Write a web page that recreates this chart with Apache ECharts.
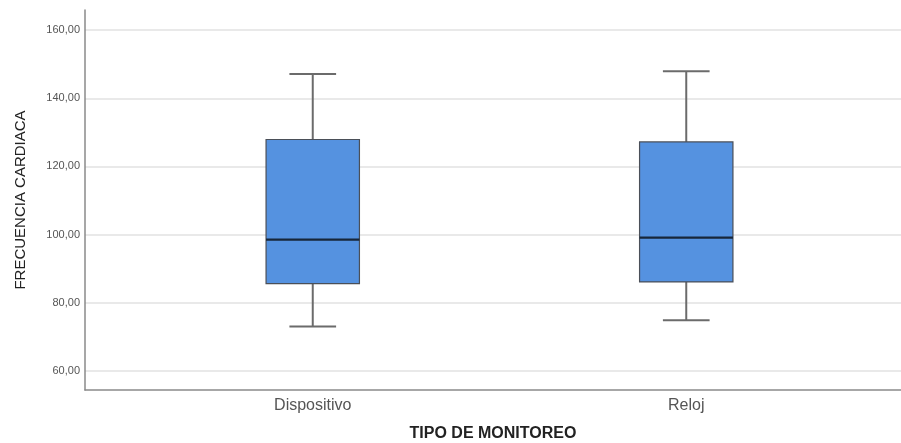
<!DOCTYPE html>
<html><head><meta charset="utf-8">
<script src="https://cdn.jsdelivr.net/npm/echarts@6/dist/echarts.min.js"></script>
<style>html,body{margin:0;padding:0;background:#fff}#c{width:901px;height:443px}</style>
</head><body><div id="c"></div>
<script>
var categories = ['Dispositivo', 'Reloj'];
// [min, Q1, median, Q3, max]
var dispositivo = [73.0, 85.6, 98.5, 127.9, 147.1];
var reloj = [74.9, 86.1, 99.1, 127.2, 147.9];
var yTicks = [60, 80, 100, 120, 140, 160];

var boxData = [dispositivo, reloj];
var chart = echarts.init(document.getElementById('c'), null, {renderer: 'canvas'});
var yMin = 54.4, yMax = 165.9;
var fmt = function (v) { return v.toFixed(2).replace('.', ','); };

chart.setOption({
  animation: false,
  grid: [
    {left: 85, right: 0, top: 10, bottom: 53, outerBoundsMode: 'none', containLabel: false},
    {left: 126, right: 28, top: 10, bottom: 53, outerBoundsMode: 'none', containLabel: false}
  ],
  xAxis: [
    {type: 'value', gridIndex: 0, min: 0, max: 1, show: true,
     axisLine: {show: true, onZero: false, lineStyle: {color: '#8a8a8a', width: 1.5}},
     axisTick: {show: false}, axisLabel: {show: false}, splitLine: {show: false},
     name: 'TIPO DE MONITOREO', nameLocation: 'middle', nameGap: 36,
     nameTextStyle: {fontFamily: 'Liberation Sans', fontSize: 16, fontWeight: 'bold', color: '#222'}},
    {type: 'category', gridIndex: 1, data: categories,
     axisLine: {show: false}, axisTick: {show: false},
     axisLabel: {fontFamily: 'Liberation Sans', fontSize: 16, color: '#555', margin: 8}}
  ],
  yAxis: [
    {type: 'value', gridIndex: 0, min: yMin, max: yMax,
     axisLine: {show: true, lineStyle: {color: '#8a8a8a', width: 1.5}},
     axisTick: {show: false, customValues: yTicks},
     axisLabel: {fontFamily: 'Liberation Sans', fontSize: 11, color: '#555', margin: 5,
       formatter: function (v) { return fmt(v); },
       customValues: yTicks},
     splitLine: {show: true, lineStyle: {color: '#e2e2e2', width: 1.5}},
     name: 'FRECUENCIA CARDIACA', nameLocation: 'middle', nameGap: 57,
     nameTextStyle: {fontFamily: 'Liberation Sans', fontSize: 15, color: '#222'}},
    {type: 'value', gridIndex: 1, min: yMin, max: yMax, show: false}
  ],
  series: [{
    type: 'custom', xAxisIndex: 1, yAxisIndex: 1,
    data: boxData.map(function (d, i) { return [i].concat(d); }),
    encode: {x: 0, y: [1, 2, 3, 4, 5]},
    renderItem: function (params, api) {
      var i = api.value(0);
      var band = api.size([1, 0])[0];
      var bw = band * 0.25, cw = bw * 0.5;
      var x = api.coord([i, 0])[0];
      var pMin = api.coord([i, api.value(1)])[1];
      var pQ1 = api.coord([i, api.value(2)])[1];
      var pMed = api.coord([i, api.value(3)])[1];
      var pQ3 = api.coord([i, api.value(4)])[1];
      var pMax = api.coord([i, api.value(5)])[1];
      var ws = {stroke: '#6b6b6b', lineWidth: 2};
      return {type: 'group', children: [
        {type: 'line', shape: {x1: x, y1: pMax, x2: x, y2: pQ3}, style: ws},
        {type: 'line', shape: {x1: x, y1: pQ1, x2: x, y2: pMin}, style: ws},
        {type: 'line', shape: {x1: x - cw / 2, y1: pMax, x2: x + cw / 2, y2: pMax}, style: ws},
        {type: 'line', shape: {x1: x - cw / 2, y1: pMin, x2: x + cw / 2, y2: pMin}, style: ws},
        {type: 'rect', shape: {x: x - bw / 2, y: pQ3, width: bw, height: pQ1 - pQ3},
         style: {fill: '#5592e0', stroke: '#4a4f58', lineWidth: 1.2}},
        {type: 'line', shape: {x1: x - bw / 2, y1: pMed, x2: x + bw / 2, y2: pMed},
         style: {stroke: '#17263a', lineWidth: 2.2}}
      ]};
    }
  }]
});
</script></body></html>
